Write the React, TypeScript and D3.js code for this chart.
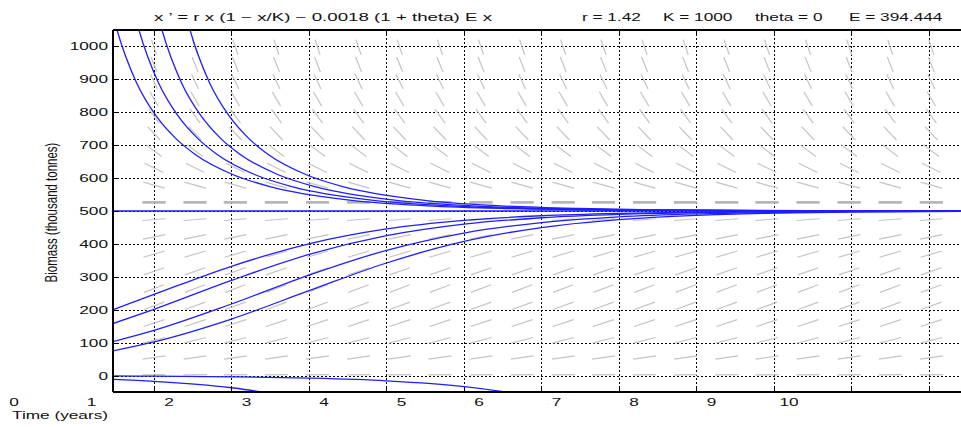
import React, { useEffect, useRef } from 'react';
import * as d3 from 'd3';

const WIDTH = 961;
const HEIGHT = 427;
const FONT = "'Liberation Sans', Arial, Helvetica, sans-serif";
const SX = 1.5; // the figure is stretched horizontally, text included

// axes
const yTicks = [0, 100, 200, 300, 400, 500, 600, 700, 800, 900, 1000];
const gridYears = [2, 3, 4, 5, 6, 7, 8, 9, 10, 11, 12];
const xTickLabels = ['0', '1', '2', '3', '4', '5', '6', '7', '8', '9', '10'];

const titleText = 'x \u2019 = r x (1 \u2212 x/K) \u2212 0.0018 (1 + theta) E x';
const paramTexts = ['r = 1.42', 'K = 1000', 'theta = 0', 'E = 394.444'];

const equilibrium = 500;
const dashedLevel = 526.2;

// direction field: column times, row levels and slope read at each row (thousand tonnes / year)
const fieldTimes = [2.0, 2.53, 3.05, 3.58, 4.11, 4.64, 5.17, 5.69, 6.22, 6.75, 7.28, 7.8, 8.33, 8.86, 9.39, 9.91, 10.44, 10.97, 11.5, 12.03];
const fieldLevels = [2.4, 54.8, 107.1, 159.5, 211.9, 264.3, 316.7, 369.0, 421.4, 473.8, 526.2, 578.6, 631.0, 683.3, 735.7, 788.1, 840.5, 892.9, 945.2, 997.6];
const fieldSlopes = [1.7, 34.6, 59.8, 77.1, 86.7, 88.5, 82.5, 68.6, 47.0, 17.6, -19.6, -64.5, -117.4, -177.9, -246.2, -322.4, -406.4, -498.1, -597.6, -704.9];

// trajectories starting below the equilibrium
const lowerTimes = [1.47, 2, 3, 4, 5, 6, 7, 8, 9, 10, 11, 12, 12.6];
const lower200 = [200, 246.4, 332.0, 400.4, 445.5, 471.6, 485.6, 492.8, 496.4, 498.2, 499.1, 499.6, 499.8];
const lower158 = [158, 201.1, 289.0, 368.0, 425.0, 460.1, 479.5, 489.7, 494.9, 497.5, 498.8, 499.4, 499.6];
const lower103 = [103, 137.2, 217.4, 305.1, 380.5, 433.1, 464.7, 482.0, 491.0, 495.5, 497.8, 498.9, 499.3];
const lower75 = [75, 102.3, 171.8, 257.8, 342.0, 407.4, 449.8, 474.0, 486.9, 493.5, 496.8, 498.4, 499.0];

// trajectories coming down from the top edge: years after entering, and level
const upperStarts = [1.523, 1.806, 2.103, 2.465];
const upperOffsets = [-0.05, 0, 0.25, 0.5, 0.75, 1, 1.5, 2, 3, 4, 5, 6, 8, 11];
const upperValues = [1093, 1050, 890.6, 790.3, 722.1, 673.4, 610.2, 572.5, 533.2, 515.8, 507.6, 503.7, 501.0, 500.1];

// trajectories starting just below zero
const negATimes = [1.47, 2, 3, 4, 5, 6, 6.53, 6.7];
const negAValues = [-1.26, -1.83, -3.75, -7.68, -15.9, -33.4, -50, -57.5];
const negBTimes = [1.47, 2, 3, 3.39, 3.47];
const negBValues = [-11.9, -17.5, -37.1, -50, -53.2];

export default function App() {
  const svgRef = useRef<SVGSVGElement | null>(null);

  useEffect(() => {
    const left = 113, right = 972, top = 30, bottom = 392;
    const svg = d3.select(svgRef.current);
    svg.selectAll('*').remove();

    const x = d3.scaleLinear().domain([1.471, 12.555]).range([left, right]);
    const y = d3.scaleLinear().domain([-50, 1050]).range([bottom, top]);

    svg.append('rect').attr('width', WIDTH).attr('height', HEIGHT).attr('fill', '#fff');

    svg.append('defs').append('clipPath').attr('id', 'plot-clip')
      .append('rect').attr('x', left).attr('y', top).attr('width', right - left).attr('height', bottom - top);

    const plot = svg.append('g').attr('clip-path', 'url(#plot-clip)');

    // Grid
    plot.append('g').selectAll('line').data(yTicks).join('line')
      .attr('x1', left).attr('x2', right).attr('y1', d => Math.round(y(d)) + 0.5).attr('y2', d => Math.round(y(d)) + 0.5)
      .attr('stroke', '#000').attr('stroke-width', 1).attr('stroke-dasharray', '2,2').attr('shape-rendering', 'crispEdges');
    plot.append('g').selectAll('line').data(gridYears).join('line')
      .attr('x1', d => Math.round(x(d)) + 0.5).attr('x2', d => Math.round(x(d)) + 0.5).attr('y1', top).attr('y2', bottom)
      .attr('stroke', '#000').attr('stroke-width', 1).attr('stroke-dasharray', '2,2').attr('shape-rendering', 'crispEdges');

    // Direction field
    const L = 15.5;
    const pxYear = x(1) - x(0);
    const field = plot.append('g');
    fieldLevels.forEach((lv, i) => {
      if (lv === dashedLevel) return;
      const dyPx = y(fieldSlopes[i]) - y(0);
      const dxU = pxYear / SX;
      const n = Math.hypot(dxU, dyPx);
      const hx = (dxU / n) * L * SX / 2;
      const hy = (dyPx / n) * L / 2;
      field.append('g').selectAll('line').data(fieldTimes).join('line')
        .attr('x1', t => x(t) - hx).attr('x2', t => x(t) + hx)
        .attr('y1', y(lv) - hy).attr('y2', y(lv) + hy)
        .attr('stroke', '#c4c4c4').attr('stroke-width', 1.2);
    });
    field.append('g').selectAll('line').data(fieldTimes).join('line')
      .attr('x1', t => x(t) - L * SX / 2).attr('x2', t => x(t) + L * SX / 2)
      .attr('y1', y(dashedLevel)).attr('y2', y(dashedLevel))
      .attr('stroke', '#b4b4b4').attr('stroke-width', 2.6);

    // Trajectories
    const line = d3.line<[number, number]>().x(d => x(d[0])).y(d => y(d[1])).curve(d3.curveMonotoneX);
    const curves: [number, number][][] = [];
    [lower200, lower158, lower103, lower75].forEach(vals => curves.push(lowerTimes.map((t, i) => [t, vals[i]])));
    upperStarts.forEach(s => curves.push(upperOffsets.map((o, i) => [s + o, upperValues[i]])));
    curves.push(negATimes.map((t, i) => [t, negAValues[i]]));
    curves.push(negBTimes.map((t, i) => [t, negBValues[i]]));
    curves.push([[1.471, equilibrium], [12.6, equilibrium]]);

    plot.append('g').selectAll('path').data(curves).join('path')
      .attr('d', d => line(d)).attr('fill', 'none').attr('stroke', '#1e1eff').attr('stroke-width', 1.3);

    // Axes frame and ticks
    const axes = svg.append('g').attr('stroke', '#000').attr('shape-rendering', 'crispEdges');
    axes.append('line').attr('x1', left).attr('x2', left).attr('y1', top).attr('y2', bottom).attr('stroke-width', 1.5);
    axes.append('line').attr('x1', left).attr('x2', WIDTH).attr('y1', top).attr('y2', top).attr('stroke-width', 1.2);
    axes.append('line').attr('x1', left).attr('x2', WIDTH).attr('y1', bottom).attr('y2', bottom).attr('stroke-width', 1.5);
    axes.append('g').selectAll('line').data(yTicks).join('line')
      .attr('x1', left).attr('x2', left + 6).attr('y1', d => Math.round(y(d)) + 0.5).attr('y2', d => Math.round(y(d)) + 0.5);
    axes.append('g').selectAll('line').data(gridYears).join('line')
      .attr('x1', d => Math.round(x(d)) + 0.5).attr('x2', d => Math.round(x(d)) + 0.5).attr('y1', bottom).attr('y2', bottom - 5);
    axes.append('g').selectAll('line').data(gridYears).join('line')
      .attr('x1', d => Math.round(x(d)) + 0.5).attr('x2', d => Math.round(x(d)) + 0.5).attr('y1', top).attr('y2', top + 5);

    // Text
    const txt = svg.append('g').attr('font-family', FONT).attr('font-size', 11.5).attr('fill', '#111');
    txt.append('g').selectAll('text').data(yTicks).join('text')
      .attr('transform', d => `translate(108,${y(d)}) scale(${SX},1)`)
      .attr('text-anchor', 'end').attr('dy', '0.35em').text(d => d);
    txt.append('g').selectAll('text').data(xTickLabels).join('text')
      .attr('transform', (d, i) => `translate(${x(i) + 15},406) scale(${SX},1)`)
      .attr('text-anchor', 'middle').text(d => d);
    txt.append('text').attr('transform', `translate(12,419) scale(${SX},1)`).text('Time (years)');
    txt.append('text').attr('transform', `translate(57,212.5) scale(${SX},1) rotate(-90)`)
      .attr('text-anchor', 'middle').text('Biomass (thousand tonnes)');

    txt.append('text').attr('x', 154).attr('y', 21)
      .attr('textLength', 338).attr('lengthAdjust', 'spacingAndGlyphs').text(titleText);
    const paramX = [582, 663, 755, 849];
    txt.append('g').selectAll('text').data(paramTexts).join('text')
      .attr('transform', (d, i) => `translate(${paramX[i]},21) scale(${SX},1)`).text(d => d);
  }, []);

  return (
    <svg ref={svgRef} width={WIDTH} height={HEIGHT}
      style={{ position: 'absolute', left: 0, top: 0, display: 'block' }} />
  );
}
